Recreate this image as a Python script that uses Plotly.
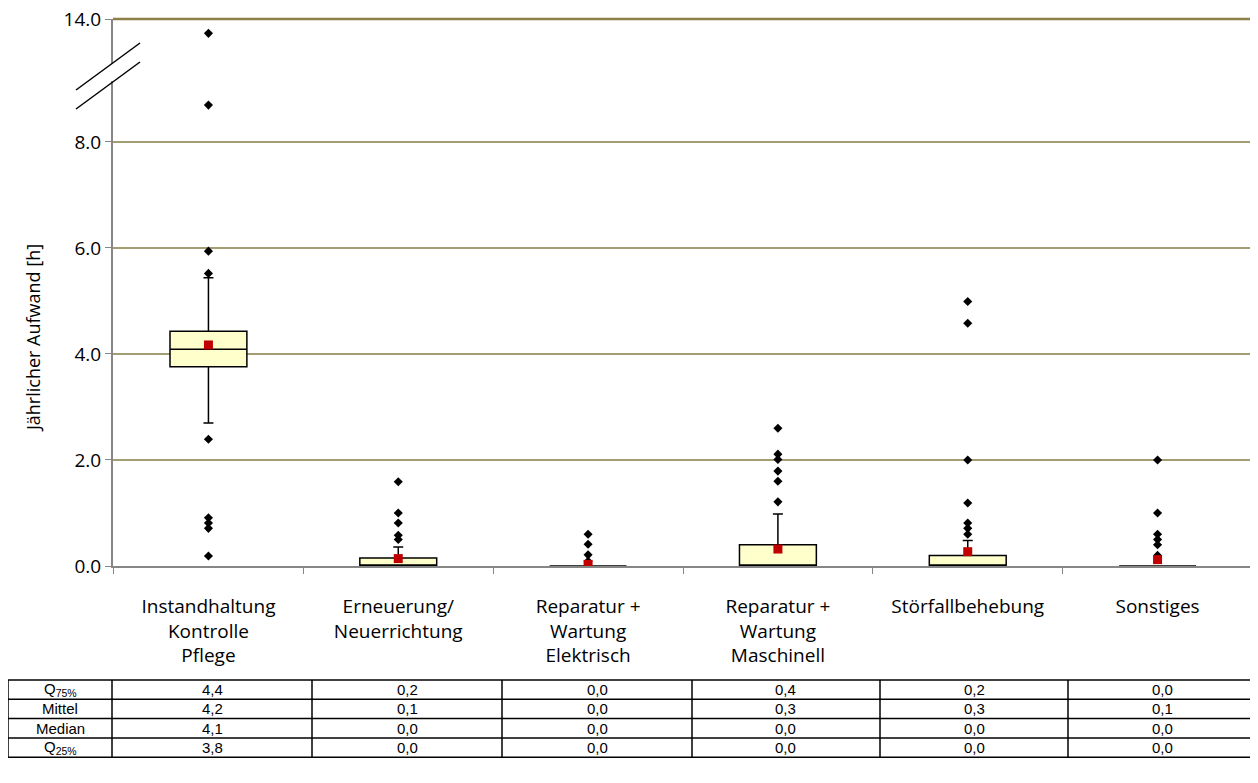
import plotly.graph_objects as go

# categories (x axis)
categories = ["Instandhaltung<br>Kontrolle<br>Pflege", "Erneuerung/<br>Neuerrichtung",
              "Reparatur +<br>Wartung<br>Elektrisch", "Reparatur +<br>Wartung<br>Maschinell",
              "Störfallbehebung", "Sonstiges"]

# box statistics [h]
q1 = [3.76, 0.0, 0.0, 0.0, 0.0, 0.0]
median = [4.09, 0.0, 0.0, 0.0, 0.0, 0.0]
q3 = [4.43, 0.15, 0.0, 0.40, 0.20, 0.0]
lower_whisker = [2.70, 0.0, 0.0, 0.0, 0.0, 0.0]
upper_whisker = [5.44, 0.36, 0.0, 0.98, 0.48, 0.0]
mean = [4.17, 0.14, 0.03, 0.32, 0.27, 0.12]

# single values outside the whiskers
outliers = [
    [13.3, 9.8, 5.94, 5.52, 2.39, 0.91, 0.81, 0.71, 0.19],
    [1.59, 1.0, 0.81, 0.58, 0.50],
    [0.6, 0.41, 0.21, 0.09],
    [2.6, 2.11, 2.01, 1.79, 1.60, 1.21],
    [4.99, 4.58, 2.0, 1.19, 0.81, 0.71, 0.60],
    [2.0, 1.0, 0.6, 0.5, 0.4, 0.2],
]

# table below the chart
row_labels = ["Q<sub>75%</sub>", "Mittel", "Median", "Q<sub>25%</sub>"]
q75_txt = ["4,4", "0,2", "0,0", "0,4", "0,2", "0,0"]
mean_txt = ["4,2", "0,1", "0,0", "0,3", "0,3", "0,1"]
median_txt = ["4,1", "0,0", "0,0", "0,0", "0,0", "0,0"]
q25_txt = ["3,8", "0,0", "0,0", "0,0", "0,0", "0,0"]

y_ticks = [0, 2, 4, 6, 8, 14]

# broken axis: 8..14 is squeezed into the space of 8..10.32
BREAK = 8.0
TOP_DISP = 10.32

# page has an 8px body margin, so the figure starts at (8, 8) on screen
OFF = 8
W, H = 1250, 775


def to_axis(v):
    if v <= BREAK:
        return v
    return BREAK + (v - BREAK) * (TOP_DISP - BREAK) / (14 - BREAK)


def px(x):
    return (x - OFF) / W


def py(y):
    return 1 - (y - OFF) / H


fig = go.Figure()

fig.add_trace(go.Box(
    x=categories, q1=q1, median=median, q3=q3,
    lowerfence=lower_whisker, upperfence=upper_whisker,
    width=0.405, whiskerwidth=0.13, boxpoints=False,
    fillcolor="#FFFFCC", line=dict(color="black", width=1.5),
    hoverinfo="skip",
))

ox, oy = [], []
for cat, vals in zip(categories, outliers):
    for v in vals:
        ox.append(cat)
        oy.append(to_axis(v))
fig.add_trace(go.Scatter(x=ox, y=oy, mode="markers",
                         marker=dict(symbol="diamond", size=7, color="black")))

fig.add_trace(go.Scatter(x=categories, y=[to_axis(m) for m in mean], mode="markers",
                         marker=dict(symbol="square", size=9, color="#C00000")))

grid = "#A39D73"
y_top = to_axis(14) + 1e-9
fig.update_layout(
    width=W, height=H,
    margin=dict(l=0, r=0, t=0, b=0),
    paper_bgcolor="white", plot_bgcolor="white",
    showlegend=False,
    font=dict(family="Open Sans, Carlito, Calibri, sans-serif", color="black"),
    xaxis=dict(domain=[px(113), px(1253)], automargin=False,
               type="category", showline=True, linecolor="#868686", linewidth=2,
               ticks="outside", tickson="boundaries", ticklen=6, tickcolor="#868686",
               ticklabelstandoff=22, tickfont=dict(size=19), showgrid=False),
    yaxis=dict(domain=[py(566), py(19)], range=[0, y_top], automargin=False,
               tickvals=[to_axis(t) for t in y_ticks],
               ticktext=[f"{t:.1f}" for t in y_ticks],
               ticklabeloverflow="allow",
               showline=True, linecolor="#868686", linewidth=2,
               ticks="outside", ticklen=6, tickcolor="#868686",
               tickfont=dict(size=19), showgrid=True, gridcolor=grid, gridwidth=1.5,
               zeroline=False),
)

fig.add_annotation(text="Jährlicher Aufwand [h]", textangle=-90, showarrow=False,
                   xref="paper", yref="paper", x=px(33), y=py(338),
                   xanchor="center", yanchor="middle", font=dict(size=18))

# darker top line at 14.0 (paper ref so it is not clipped)
fig.add_shape(type="line", xref="paper", yref="paper", x0=px(113), x1=px(1253),
              y0=py(19), y1=py(19), line=dict(color="#8C8048", width=2.5))
# axis break marks
fig.add_shape(type="rect", xref="x domain", yref="y domain", xsizemode="pixel", ysizemode="pixel",
              xanchor=0, yanchor=1, x0=-3, x1=3, y0=-45, y1=-62,
              fillcolor="white", line=dict(width=0))
for dy in (0, -19):
    fig.add_shape(type="line", xref="x domain", yref="y domain", xsizemode="pixel", ysizemode="pixel",
                  xanchor=0, yanchor=1, x0=-37, y0=-71 + dy, x1=27, y1=-24 + dy,
                  line=dict(color="black", width=1.5))

# statistics table
col_edges = [8, 112, 312, 502, 692, 880, 1068, 1257]
row_top, row_h = 680, 19.3
table_rows = [q75_txt, mean_txt, median_txt, q25_txt]
for r, (label, vals) in enumerate(zip(row_labels, table_rows)):
    yc = row_top + row_h * (r + 0.5)
    for c, txt in enumerate([label] + vals):
        fig.add_annotation(text=txt, showarrow=False, xref="paper", yref="paper",
                           x=px((col_edges[c] + col_edges[c + 1]) / 2), y=py(yc),
                           xanchor="center", yanchor="middle",
                           font=dict(family="Liberation Sans, Arial", size=15, color="black"))
for r in range(len(table_rows) + 1):
    y = row_top + row_h * r
    fig.add_shape(type="line", xref="paper", yref="paper", x0=px(col_edges[0]), x1=px(col_edges[-1]),
                  y0=py(y), y1=py(y), line=dict(color="black", width=1.5))
for x in col_edges:
    fig.add_shape(type="line", xref="paper", yref="paper", x0=px(x), x1=px(x),
                  y0=py(row_top), y1=py(row_top + row_h * len(table_rows)),
                  line=dict(color="black", width=1.5))

fig.write_html("out.html")
